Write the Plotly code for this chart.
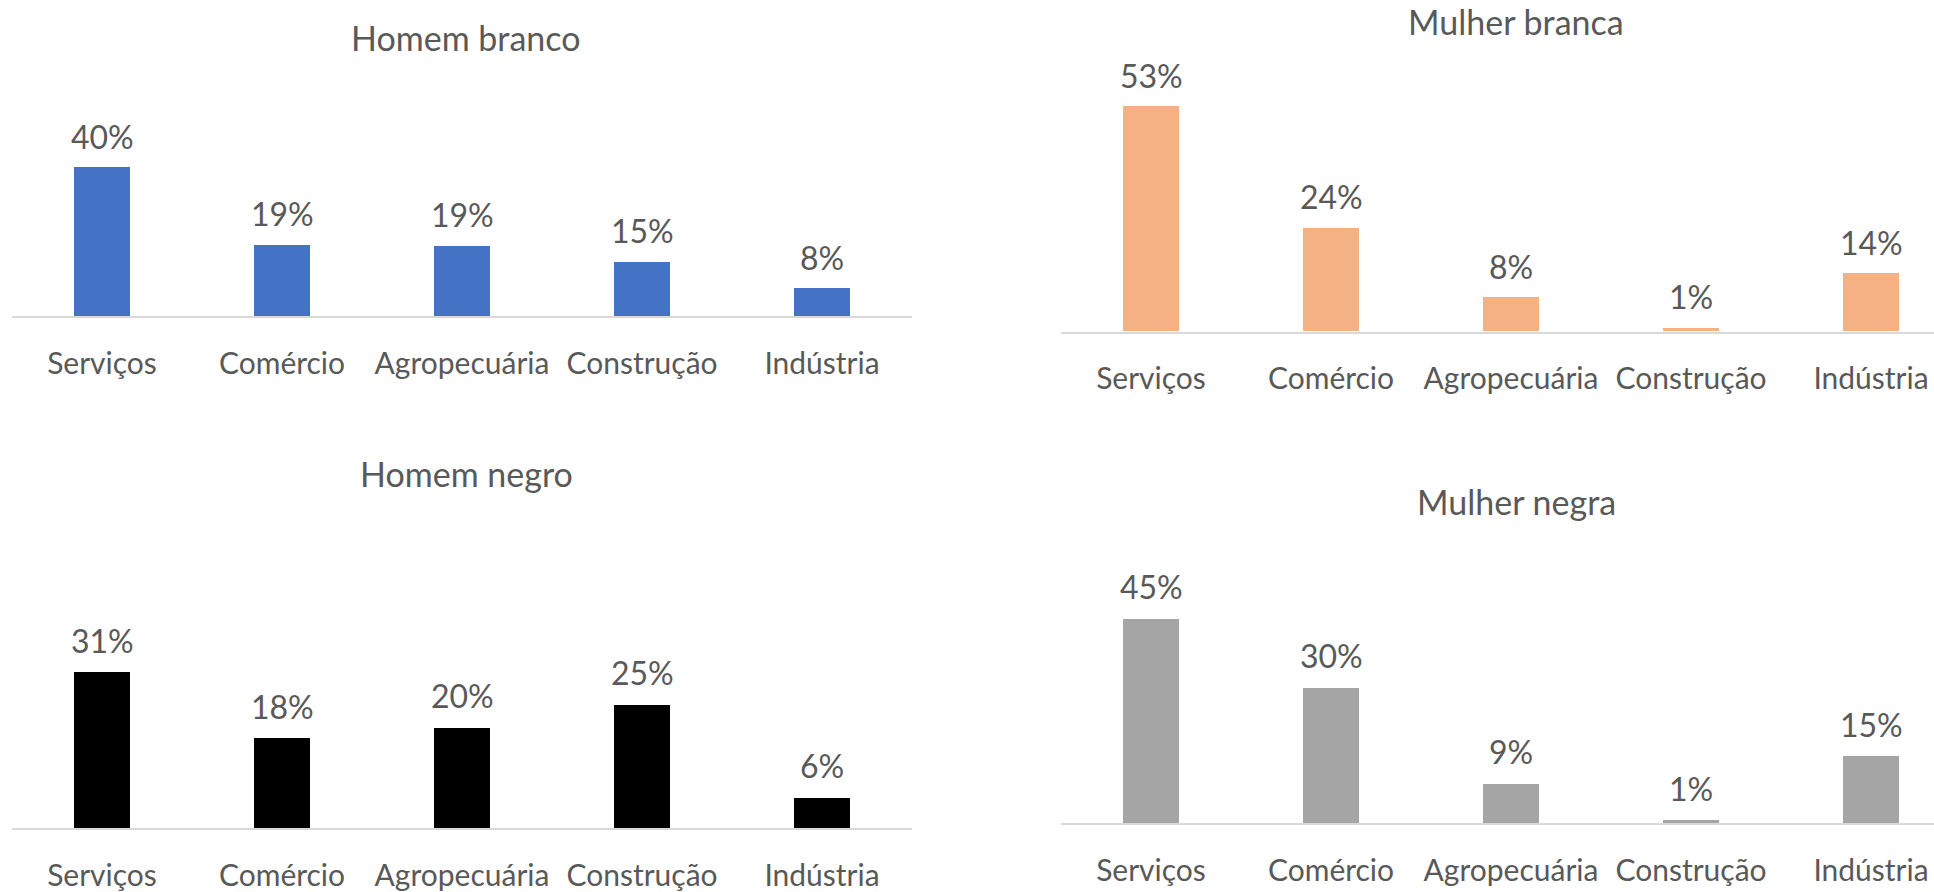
import plotly.graph_objects as go

categories = ["Serviços", "Comércio", "Agropecuária", "Construção", "Indústria"]

homem_branco = [40.0, 19.1, 18.9, 14.6, 7.5]
mulher_branca = [53.0, 24.3, 8.0, 0.8, 13.7]
homem_negro = [31.0, 17.9, 20.0, 24.6, 6.2]
mulher_negra = [45.0, 29.8, 8.8, 0.8, 14.8]

titles = ["Homem branco", "Mulher branca", "Homem negro", "Mulher negra"]
colors = ["#4472C4", "#F4B183", "#000000", "#A5A5A5"]

W, H = 1934, 892
FONT = "Lato"
TXT = "#595959"

# panel geometry in pixels: x0, x1, baseline_y, top_y, px_per_pct, xrange_max, title_x, title_y
panels = [
    (12, 912, 319, 100, 3.75, 4.5, 466, 38),
    (1061, 1934, 334.3, 80, 4.28, 4.35, 1516, 22),
    (12, 912, 835, 560, 5.09, 4.5, 466, 477),
    (1061, 1934, 830, 560, 4.6, 4.35, 1516, 505),
]
series = [homem_branco, mulher_branca, homem_negro, mulher_negra]

fig = go.Figure()
annotations = []
for i, (vals, (x0, x1, yb, yt, ppp, xmax, tx, ty)) in enumerate(zip(series, panels)):
    n = "" if i == 0 else str(i + 1)
    fig.add_trace(go.Bar(
        x=categories, y=vals, marker=dict(color=colors[i], line=dict(width=0)),
        width=0.315, xaxis="x" + n, yaxis="y" + n, showlegend=False,
        hoverinfo="skip",
    ))
    fig.update_layout(**{
        "xaxis" + n: dict(
            domain=[x0 / W, x1 / W], range=[-0.5, xmax], anchor="y" + n,
            showline=True, linecolor="#D9D9D9", linewidth=1.5,
            showgrid=False, zeroline=False, ticks="",
            tickfont=dict(family=FONT, size=30, color=TXT),
            ticklabelstandoff=20, fixedrange=True,
        ),
        "yaxis" + n: dict(
            domain=[1 - yb / H, 1 - yt / H], range=[0, (yb - yt) / ppp],
            anchor="x" + n, visible=False, showgrid=False, zeroline=False,
            fixedrange=True,
        ),
    })
    for c, v in zip(categories, vals):
        annotations.append(dict(
            x=c, y=v, xref="x" + n, yref="y" + n, text=f"{v:.0f}%",
            showarrow=False, yanchor="bottom", yshift=10,
            font=dict(family=FONT, size=32, color=TXT),
        ))
    annotations.append(dict(
        x=tx / W, y=1 - ty / H, xref="paper", yref="paper", text=titles[i],
        showarrow=False, xanchor="center", yanchor="middle",
        font=dict(family=FONT, size=34, color=TXT),
    ))

fig.update_layout(
    width=W, height=H, margin=dict(l=0, r=0, t=0, b=0),
    paper_bgcolor="white", plot_bgcolor="white",
    annotations=annotations, bargap=0,
)

fig.write_html(
    "out.html",
    config={"displayModeBar": False},
    post_script="document.body.style.margin='0';document.body.style.overflow='hidden';",
)
